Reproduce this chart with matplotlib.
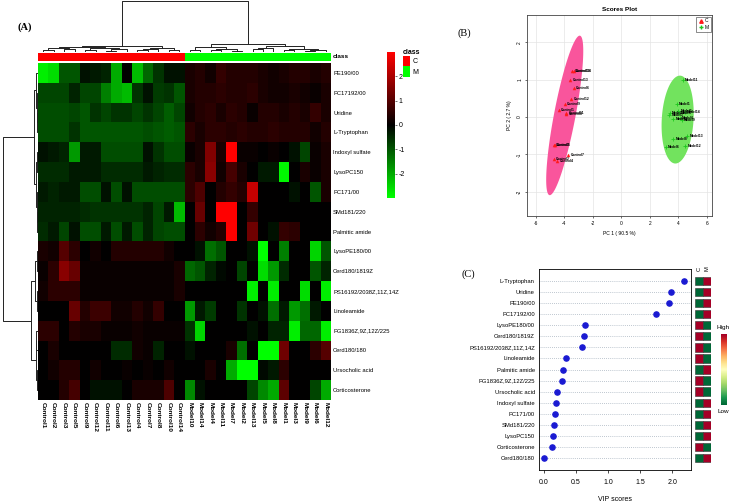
import numpy as np
import matplotlib
matplotlib.use('Agg')
import matplotlib.pyplot as plt
from matplotlib.colors import LinearSegmentedColormap, ListedColormap
from matplotlib.patches import Patch, Polygon
from matplotlib.lines import Line2D

plt.rcParams['font.family'] = ['Liberation Sans', 'DejaVu Sans']
plt.rcParams['axes.unicode_minus'] = False

# ---------------- data: heatmap (A) ----------------
row_names = ["PE190/00", "PC17192/00", "Uridine", "L-Tryptophan", "Indoxyl sulfate",
             "LysoPC150", "PC171/00", "SMd181/220", "Palmitic amide", "LysoPE180/00",
             "Cerd180/1819Z", "PS16192/2038Z,11Z,14Z", "Linoleamide", "PG1836Z,9Z,12Z/225",
             "Cerd180/180", "Ursocholic acid", "Corticosterone"]
col_names = ["Control1", "Control2", "Control3", "Control5", "Control9", "Control12", "Control11",
             "Control6", "Control13", "Control4", "Control7", "Control8", "Control10", "Control14",
             "Model10", "Model14", "Model4", "Model11", "Model7", "Model2", "Model13",
             "Model5", "Model8", "Model1", "Model3", "Model9", "Model6", "Model12"]
col_class = [0]*14 + [1]*14

# z-scores, control columns then model columns
heat_ctrl = [
    [-2.8, -2.6, -1.0, -1.0, -0.2, -0.3, -0.4, -2.0, 0.0, -2.2, -1.2, -0.6, -0.2, -0.2],
    [-0.8, -0.8, -0.8, -0.4, -0.8, -0.8, -1.5, -2.0, -2.2, -0.6, -0.2, -0.7, -0.6, -1.0],
    [-0.9, -0.9, -0.9, -0.8, -1.0, -0.6, -0.8, -0.6, -0.6, -0.8, -0.6, -0.8, -1.1, -0.8],
    [-0.9, -0.9, -0.9, -0.6, -1.0, -1.0, -1.0, -1.0, -1.0, -1.0, -0.9, -1.0, -1.1, -1.0],
    [-0.2, -0.3, -0.4, -1.8, -0.3, -0.3, -0.9, -0.9, -0.9, -0.9, -0.2, -0.6, -0.9, -0.9],
    [-0.5, -0.5, -0.5, -0.3, -0.3, -0.3, -0.5, -0.5, -0.5, -0.5, -0.3, -0.4, -0.5, -0.5],
    [-0.3, -0.4, -0.3, -0.3, -0.9, -0.9, -0.2, -0.9, -0.2, -0.9, -0.9, -0.9, -0.9, -0.9],
    [-0.4, -0.4, -0.4, -0.4, -0.5, -0.6, -0.6, -0.6, -0.6, -0.6, -0.4, -0.8, -0.3, -2.2],
    [-0.5, -0.3, -0.8, -0.2, -0.9, -0.9, -0.3, -0.9, -0.3, -0.9, -0.4, -0.8, -0.9, -0.9],
    [0.3, 0.2, 1.0, 0.5, 0.0, 0.2, 0.0, 0.4, 0.4, 0.4, 0.4, 0.4, 0.2, 0.0],
    [0.1, 0.5, 1.6, 1.2, 0.1, 0.1, 0.1, 0.1, 0.1, 0.1, 0.1, 0.1, 0.1, 0.3],
    [0.2, 0.5, 0.5, 0.5, 0.1, 0.1, 0.1, 0.1, 0.1, 0.1, 0.1, 0.1, 0.1, 0.3],
    [0.0, 0.0, 0.0, 1.2, 0.4, 0.7, 0.7, 0.2, 0.2, 0.4, 0.2, 0.6, 0.0, 0.0],
    [0.5, 0.5, 0.0, 0.4, 0.3, 0.3, 0.1, 0.1, 0.1, 0.2, 0.1, 0.1, 0.1, 0.1],
    [0.0, 0.3, 0.0, 0.0, 0.0, 0.0, 0.0, -0.5, -0.5, 0.2, 0.1, -0.4, 0.0, 0.0],
    [0.0, 0.2, 0.4, 0.4, 0.0, 0.2, 0.0, 0.0, 0.1, 0.0, 0.1, 0.0, 0.2, 0.0],
    [0.0, 0.0, 0.4, 0.8, 0.0, -0.2, -0.2, -0.2, 0.0, 0.3, 0.3, 0.3, 0.9, 0.0],
]
heat_model = [
    [0.3, 0.4, 0.2, 0.6, 0.4, 0.4, 0.4, 0.3, 0.2, 0.3, 0.4, 0.4, 0.3, 0.4],
    [0.3, 0.4, 0.4, 0.5, 0.4, 0.4, 0.5, 0.3, 0.2, 0.2, 0.3, 0.2, 0.1, 0.3],
    [0.2, 0.4, 0.5, 0.3, 0.5, 0.4, 0.1, 0.4, 0.4, 0.3, 0.4, 0.3, 0.6, 0.3],
    [0.5, 0.3, 0.5, 0.5, 0.4, 0.5, 0.4, 0.4, 0.5, 0.4, 0.4, 0.4, 0.2, 0.4],
    [0.1, 0.3, 1.5, 0.3, 3.0, 0.1, 0.1, 0.0, 0.1, 0.0, -0.2, -0.8, 0.1, 0.3],
    [0.5, 0.3, 1.6, 0.2, 0.8, 0.3, 0.0, -0.3, -0.3, -2.9, 0.0, 0.3, 0.1, 0.3],
    [0.5, 0.9, 0.0, 0.4, 0.6, 0.4, 2.3, 0.0, 0.0, 0.0, -0.2, 0.0, -1.0, 0.3],
    [0.0, 1.2, 0.0, 3.0, 3.0, 0.0, 0.6, 0.0, 0.0, 0.0, 0.0, 0.0, 0.0, 0.0],
    [0.0, 0.5, 0.2, 0.4, 3.0, 0.0, 1.3, 0.0, -0.2, 0.6, 0.5, 0.0, 0.0, 0.0],
    [0.0, -0.2, -1.3, -1.0, 0.0, 0.0, -0.2, -3.0, 0.0, -1.5, 0.0, 0.0, -2.5, -1.0],
    [-1.2, -1.0, -0.4, -0.1, 0.0, -0.8, 0.0, -2.6, -1.8, -0.5, 0.0, 0.0, -1.0, -0.4],
    [0.0, 0.0, 0.0, 0.0, 0.0, 0.0, -2.8, 0.0, -2.8, 0.0, 0.0, -2.6, 0.0, -2.8],
    [-1.8, -0.3, -0.7, 0.0, 0.0, -0.6, 0.0, -0.2, -1.3, -0.3, -1.8, -1.3, -0.3, 0.0],
    [-0.6, -2.5, 0.0, 0.0, 0.0, 0.0, -0.2, 0.0, -0.4, -0.4, -2.8, -1.2, -1.2, -2.8],
    [-0.2, 0.0, 0.0, 0.0, 0.3, -1.3, 0.0, -3.0, -3.0, 1.3, 0.0, 0.0, 0.5, 1.0],
    [0.0, 0.0, 0.3, 0.0, -2.0, -3.0, -3.0, -0.1, -0.3, 0.5, 0.0, 0.0, 0.0, 0.0],
    [-1.6, -0.2, 0.0, 0.0, 0.0, 0.0, -0.8, -1.6, -2.0, 1.1, 0.0, 0.0, -0.8, -2.0],
]

# dendrogram trees: (left, right, height), leaves are display indices
col_tree = (((((0, 1, .03), (2, 3, .05), .08), ((4, 5, .04), ((6, 7, .02), 8, .05), .07), .10),
             (((9, 10, .03), 11, .05), (12, 13, .04), .08), .12),
            (((14, 15, .04), ((16, 17, .03), (18, 19, .02), .05), .09),
             (((20, 21, .05), 22, .07), ((23, 24, .03), ((25, 26, .02), 27, .04), .06), .11), .16), 1.0)
row_tree = ((((0, (1, (2, 3, .02), .04), .06), ((4, 5, .03), (6, (7, 8, .02), .04), .05), .12)),
            (((9, 10, .03), (11, 12, .04), .08), ((13, 14, .05), (15, 16, .03), .07), .21), 1.0)

# ---------------- data: PCA scores (B) ----------------
ctrl_names = ["Control10", "Control14", "Control13", "Control6", "Control12", "Control9", "Control1",
              "Control11", "Control8", "Control3", "Control5", "Control7", "Control2", "Control4"]
ctrl_pc1 = [-3.42, -3.30, -3.57, -3.33, -3.50, -3.96, -4.36, -3.85, -3.85, -4.74, -4.65, -3.71, -4.71, -4.48]
ctrl_pc2 = [1.24, 1.24, 0.99, 0.77, 0.48, 0.34, 0.19, 0.12, 0.07, -0.76, -0.76, -1.02, -1.13, -1.18]
model_names = ["Model11", "Model1", "Model5", "Model7", "Model10", "Model3", "Model2", "Model4",
               "Model9", "Model13", "Model8", "Model6", "Model12", "Model14"]
model_pc1 = [4.29, 3.87, 3.99, 4.04, 3.40, 3.36, 3.64, 4.11, 4.22, 4.62, 3.64, 3.12, 4.48, 4.45]
model_pc2 = [0.99, 0.34, 0.17, 0.12, 0.10, 0.05, -0.06, -0.04, -0.08, -0.51, -0.60, -0.81, -0.78, 0.14]

# ---------------- data: VIP scores (C) ----------------
vip_names = ["L-Tryptophan", "Uridine", "PE190/00", "PC17192/00", "LysoPE180/00", "Cerd180/1819Z",
             "PS16192/2038Z,11Z,14Z", "Linoleamide", "Palmitic amide", "PG1836Z,9Z,12Z/225",
             "Ursocholic acid", "Indoxyl sulfate", "PC171/00", "SMd181/220", "LysoPC150",
             "Corticosterone", "Cerd180/180"]
vip_scores = [2.18, 1.98, 1.94, 1.74, 0.64, 0.63, 0.59, 0.35, 0.29, 0.28, 0.20, 0.19, 0.17, 0.16,
              0.145, 0.12, 0.005]
vip_c_high = [0, 0, 0, 0, 1, 1, 1, 1, 0, 1, 1, 0, 0, 0, 0, 1, 0]
vip_m_high = [1 - v for v in vip_c_high]

W, H = 730, 504
fig = plt.figure(figsize=(W/100, H/100), dpi=100)


def px_axes(x0, y0, x1, y1):
    return fig.add_axes([x0/W, 1 - y1/H, (x1 - x0)/W, (y1 - y0)/H])


def dendro(ax, node, orient):
    if isinstance(node, int):
        return node + 0.5, 0.0
    p1, h1 = dendro(ax, node[0], orient)
    p2, h2 = dendro(ax, node[1], orient)
    h = node[2]
    a = [p1, p1, p2, p2]
    b = [h1, h, h, h2]
    if orient == 'top':
        ax.plot(a, b, color='#222222', lw=0.7)
    else:
        ax.plot(b, a, color='#222222', lw=0.7)
    return (p1 + p2) / 2, h


def conf_ellipse(x, y, k=2.4477, n=200):
    xy = np.vstack([x, y])
    mu = xy.mean(axis=1)
    vals, vecs = np.linalg.eigh(np.cov(xy))
    t = np.linspace(0, 2*np.pi, n)
    circ = np.vstack([np.cos(t), np.sin(t)])
    pts = vecs @ (np.sqrt(vals)[:, None] * circ) * k + mu[:, None]
    return pts.T


# ---------- (A) heatmap ----------
vals = np.hstack([np.array(heat_ctrl), np.array(heat_model)])
gbr = LinearSegmentedColormap.from_list('gbr', ['#00FF00', '#000000', '#FF0000'])

ax_h = px_axes(38, 63, 331, 400)
mesh = ax_h.pcolormesh(np.arange(len(col_names) + 1), np.arange(len(row_names) + 1), vals,
                       cmap=gbr, vmin=-3, vmax=3)
ax_h.set_xlim(0, len(col_names))
ax_h.set_ylim(len(row_names), 0)
ax_h.set_xticks(np.arange(len(col_names)) + 0.5)
ax_h.set_xticklabels(col_names, rotation=270, fontsize=4.6, fontweight='bold')
ax_h.yaxis.tick_right()
ax_h.set_yticks(np.arange(len(row_names)) + 0.5)
ax_h.set_yticklabels(row_names, fontsize=4.2)
ax_h.tick_params(length=0, pad=1.5)
for s in ax_h.spines.values():
    s.set_visible(False)

ax_c = px_axes(38, 53, 331, 61)
ax_c.pcolormesh(np.arange(len(col_names) + 1), [0, 1], np.array([col_class]),
                cmap=ListedColormap(['#FF0000', '#00FF00']), vmin=0, vmax=1)
ax_c.set_xlim(0, len(col_names))
ax_c.axis('off')
ax_c.text(1.006, 0.5, 'class', transform=ax_c.transAxes, va='center', fontsize=4.6, fontweight='bold')

ax_d = px_axes(38, 1, 331, 52)
dendro(ax_d, col_tree, 'top')
ax_d.set_xlim(0, len(col_names))
ax_d.set_ylim(0, 1.0)
ax_d.axis('off')

ax_r = px_axes(3, 63, 38, 400)
dendro(ax_r, row_tree, 'left')
ax_r.set_xlim(1.0, 0)
ax_r.set_ylim(len(row_names), 0)
ax_r.axis('off')

cax = px_axes(387, 52, 395, 198)
cb = fig.colorbar(mesh, cax=cax, ticks=[-2, -1, 0, 1, 2])
cb.outline.set_visible(False)
cax.tick_params(labelsize=5, length=1.5, width=0.4, pad=1)

fig.legend(handles=[Patch(facecolor='#FF0000', label='C'), Patch(facecolor='#00FF00', label='M')],
           title='class', loc='upper left', bbox_to_anchor=(403/W, 1 - 49/H), frameon=False,
           fontsize=5, title_fontproperties={'weight': 'bold', 'size': 5},
           handlelength=1.0, handleheight=1.9, handletextpad=0.4, labelspacing=0.0,
           borderaxespad=0, borderpad=0, alignment='left')

# ---------- (B) PCA scores ----------
ax_p = px_axes(527, 15, 712, 216)
ax_p.add_patch(Polygon(conf_ellipse(ctrl_pc1, ctrl_pc2), closed=True, facecolor='#F9559C',
                       edgecolor='none', zorder=1))
ax_p.add_patch(Polygon(conf_ellipse(model_pc1, model_pc2), closed=True, facecolor='#72E35E',
                       edgecolor='none', zorder=1))
ax_p.scatter(ctrl_pc1, ctrl_pc2, marker='^', s=5, color='#FF1A1A', linewidths=0.2, zorder=3)
ax_p.scatter(model_pc1, model_pc2, marker='+', s=9, color='#1EC81E', linewidths=0.6, zorder=3)
for nm, x, y in zip(ctrl_names, ctrl_pc1, ctrl_pc2):
    ax_p.text(x + 0.15, y, nm, fontsize=2.4, fontweight='bold', va='center', zorder=4)
for nm, x, y in zip(model_names, model_pc1, model_pc2):
    ax_p.text(x + 0.15, y, nm, fontsize=2.4, fontweight='bold', va='center', zorder=4)
ax_p.set_xlim(-6.6, 6.35)
ax_p.set_ylim(-2.65, 2.73)
ax_p.set_xticks([-6, -4, -2, 0, 2, 4, 6])
ax_p.set_yticks([-2, -1, 0, 1, 2])
ax_p.grid(color='#e4e4e4', lw=0.5)
ax_p.set_axisbelow(True)
ax_p.tick_params(labelsize=3.5, length=1.5, width=0.4, pad=2)
plt.setp(ax_p.get_yticklabels(), rotation=90, va='center')
ax_p.set_xlabel('PC 1 ( 90.5 %)', fontsize=3.6, labelpad=4)
ax_p.set_ylabel('PC 2 ( 2.7 %)', fontsize=3.6, labelpad=4)
ax_p.set_title('Scores Plot', fontsize=4.6, fontweight='bold', pad=3)
for s in ax_p.spines.values():
    s.set_linewidth(0.6)
    s.set_color('#444444')
ax_p.legend(handles=[Line2D([], [], marker='^', ls='none', color='#FF1A1A', ms=2.5, label='C'),
                     Line2D([], [], marker='+', ls='none', color='#1EC81E', ms=3, label='M')],
            loc='upper right', fontsize=3.6, fancybox=False, edgecolor='#333333',
            handletextpad=0.2, borderpad=0.4, labelspacing=0.3, handlelength=1.0,
            borderaxespad=0.3).get_frame().set_linewidth(0.5)

# ---------- (C) VIP scores ----------
n = len(vip_names)
ypos = np.arange(n)[::-1]
ax_v = px_axes(539, 269, 691, 470)
ax_v.scatter(vip_scores, ypos, s=14, color='#1A1AD2', zorder=3)
ax_v.set_xlim(-0.078, 2.29)
ax_v.set_ylim(-1.08, n - 1 + 1.08)
ax_v.set_yticks(ypos)
ax_v.set_yticklabels(vip_names, fontsize=4.2)
ax_v.set_xticks([0, 0.5, 1.0, 1.5, 2.0])
ax_v.set_xticklabels(['0.0', '0.5', '1.0', '1.5', '2.0'], fontsize=5)
ax_v.yaxis.grid(True, linestyle=(0, (1, 1.5)), color='#a8b4c0', lw=0.6)
ax_v.tick_params(axis='y', length=0, pad=3)
ax_v.tick_params(axis='x', length=2.5, width=0.5, pad=4)
ax_v.set_xlabel('VIP scores', fontsize=5, labelpad=7)
for s in ax_v.spines.values():
    s.set_linewidth(0.6)

hl_cmap = plt.get_cmap('RdYlGn_r')
ax_m = px_axes(695, 269, 711, 470)
ax_m.barh(ypos, 0.9, left=0.05, height=0.75, color=[hl_cmap(float(v)) for v in vip_c_high],
          edgecolor='#333333', lw=0.4)
ax_m.barh(ypos, 0.9, left=1.05, height=0.75, color=[hl_cmap(float(v)) for v in vip_m_high],
          edgecolor='#333333', lw=0.4)
ax_m.set_xlim(0, 2)
ax_m.set_ylim(-1.08, n - 1 + 1.08)
ax_m.axis('off')
ax_m.text(0.5, n - 1 + 0.9, 'C', rotation=90, ha='center', va='bottom', fontsize=4.2)
ax_m.text(1.5, n - 1 + 0.9, 'M', rotation=90, ha='center', va='bottom', fontsize=4.2)

ax_hl = px_axes(721, 334, 727, 405)
ax_hl.imshow(np.linspace(1, 0, 100)[:, None], cmap=hl_cmap, aspect='auto')
ax_hl.axis('off')
fig.text(723/W, 1 - 330/H, 'High', fontsize=4.6, ha='center', va='bottom')
fig.text(723/W, 1 - 409/H, 'Low', fontsize=4.6, ha='center', va='top')

# panel letters
fig.text(18/W, 1 - 27/H, '(A)', fontsize=7.5, fontweight='bold', family='Liberation Serif', va='center')
fig.text(457/W, 1 - 33/H, '(B)', fontsize=7.5, family='Liberation Serif', va='center')
fig.text(462/W, 1 - 274/H, '(C)', fontsize=7.5, family='Liberation Serif', va='center')

fig.savefig('out.png', dpi=100)
